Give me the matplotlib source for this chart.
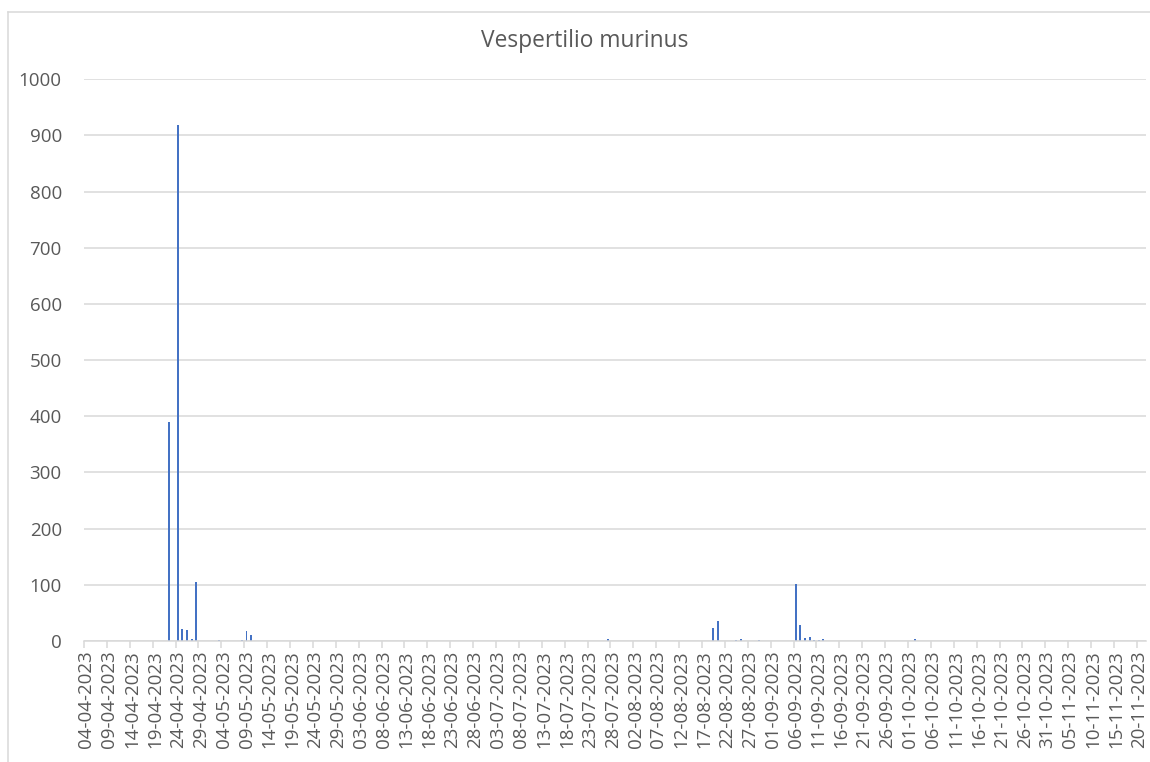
import matplotlib
matplotlib.use("Agg")
import matplotlib.pyplot as plt
from matplotlib.lines import Line2D
import pandas as pd
import numpy as np

# ---- data ----
title = "Vespertilio murinus"
start_date = "2023-04-04"
end_date = "2023-11-21"
obs_dates = ["2023-04-22", "2023-04-24", "2023-04-25", "2023-04-26", "2023-04-27",
             "2023-04-28", "2023-05-03", "2023-05-08", "2023-05-09", "2023-05-10",
             "2023-07-27", "2023-08-19", "2023-08-20", "2023-08-24", "2023-08-25",
             "2023-08-29", "2023-09-06", "2023-09-07", "2023-09-08", "2023-09-09",
             "2023-09-10", "2023-09-11", "2023-09-12", "2023-10-02"]
obs_counts = [390, 918, 21, 20, 4,
              105, 2, 1, 17, 10,
              3, 24, 36, 2, 3,
              2, 101, 29, 6, 7,
              2, 2, 3, 3]
y_ticks = list(range(0, 1001, 100))

dates = pd.date_range(start_date, end_date, freq="D")
series = pd.Series(0, index=dates)
series.loc[pd.to_datetime(obs_dates)] = obs_counts
labels = [d.strftime("%d-%m-%Y") for d in dates]

TEXT = "#595959"
GRID = "#D9D9D9"
BLUE = "#4472C4"
FONT = "Open Sans"

fig = plt.figure(figsize=(11.5, 7.62), dpi=100)
W, H = 1150, 762
ax = fig.add_axes([84 / W, 1 - 641 / H, (1146 - 84) / W, (641 - 79.3) / H])

x = np.arange(len(dates))
ax.bar(x, series.values, width=0.42, color=BLUE, zorder=3)

ax.set_xlim(-0.5, len(dates) - 0.5)
ax.set_ylim(0, 1000)
ax.set_yticks(y_ticks)
ax.set_yticklabels([str(v) for v in y_ticks], fontsize=13.5, color=TEXT, family=FONT)
ax.tick_params(axis="y", length=0, pad=16)
ax.grid(axis="y", color=GRID, linewidth=1.1, zorder=0)

major = x[::5]
ax.set_xticks(major)
ax.set_xticklabels([labels[i] for i in major], rotation=90, fontsize=13.5,
                   color=TEXT, family=FONT)
ax.tick_params(axis="x", which="major", length=0, pad=7)
ax.set_xticks(np.arange(-0.5, len(dates), 5), minor=True)
ax.tick_params(axis="x", which="minor", length=5, color=GRID, width=1.1)

for s in ["top", "right", "left"]:
    ax.spines[s].set_visible(False)
ax.spines["bottom"].set_color(GRID)
ax.spines["bottom"].set_linewidth(1.1)
ax.spines["bottom"].set_zorder(4)

fig.text(585 / W, 1 - 41 / H, title, ha="center", va="center", fontsize=16.4,
         color=TEXT, family=FONT)

# chart border
fig.add_artist(Line2D([7.5 / W, 7.5 / W], [1 - 11.5 / H, 0], color=GRID, linewidth=1.1,
                      transform=fig.transFigure))
fig.add_artist(Line2D([7.5 / W, 1], [1 - 11.5 / H, 1 - 11.5 / H], color=GRID, linewidth=1.1,
                      transform=fig.transFigure))

fig.savefig("out.png", dpi=100)
